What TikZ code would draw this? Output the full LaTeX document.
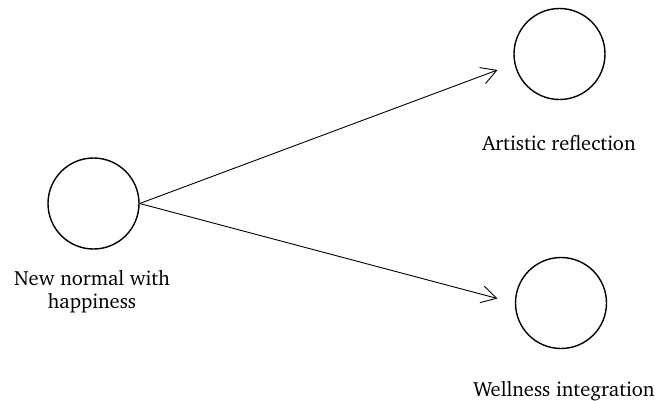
\documentclass[tikz,border=0pt]{standalone}
\usepackage[T1]{fontenc}
\usepackage{charter}
\usetikzlibrary{arrows.meta}
\begin{document}
\begin{tikzpicture}[x=1pt,y=-1pt,
  circ/.style={draw, circle, line width=1.4pt, minimum size=91pt, inner sep=0pt},
  lbl/.style={font=\fontsize{20.5}{23}\selectfont, align=center, inner sep=0pt},
  conn/.style={line width=0.9pt, -{Straight Barb[length=15pt,width=17pt,line width=0.9pt]}}]
\useasboundingbox (0,0) rectangle (658,400);
\node[circ] (n) at (93.5,203.5) {};
\node[circ] (a) at (559.5,54) {};
\node[circ] (w) at (561,303) {};
\node[lbl] (nl) at (92,292) {New normal with\\happiness};
\node[lbl] (al) at (559,143) {Artistic reflection};
\node[lbl] (wl) at (564,391) {Wellness integration};
\coordinate (ta) at (497.5,70);
\coordinate (tw) at (497.5,298.5);
\draw[conn] (n.east) -- (ta);
\draw[conn] (n.east) -- (tw);
\end{tikzpicture}
\end{document}
